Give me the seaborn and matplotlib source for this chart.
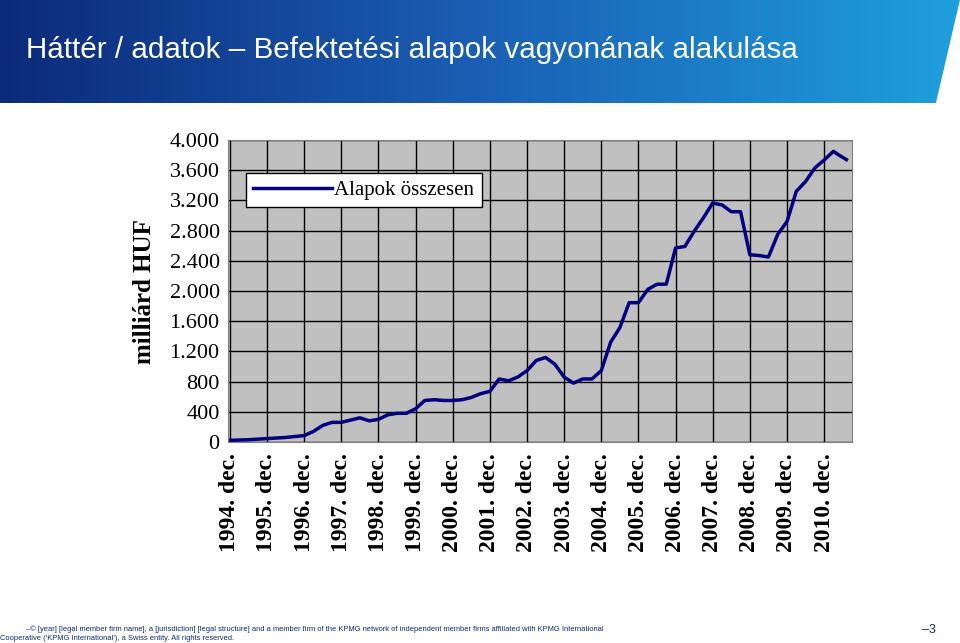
import numpy as np
import pandas as pd
import matplotlib
matplotlib.use("Agg")
import matplotlib.pyplot as plt
import seaborn as sns
from matplotlib.colors import LinearSegmentedColormap

# time in years since 1994 dec (quarterly readings)
t = [0, 0.5, 1, 1.5, 2, 2.25, 2.5, 2.75, 3, 3.25, 3.5, 3.75, 4, 4.25, 4.5, 4.75, 5, 5.25, 5.5, 5.75,
     6, 6.25, 6.5, 6.75, 7, 7.25, 7.5, 7.75, 8, 8.25, 8.5, 8.75, 9, 9.25, 9.5, 9.75, 10, 10.25, 10.5,
     10.75, 11, 11.25, 11.5, 11.75, 12, 12.25, 12.5, 12.75, 13, 13.25, 13.5, 13.75, 14, 14.25, 14.5,
     14.75, 15, 15.25, 15.5, 15.75, 16, 16.25, 16.4, 16.6]
values = [22, 30, 45, 60, 85, 140, 220, 260, 260, 290, 320, 280, 300, 360, 380, 380, 440, 550, 560, 550,
          550, 560, 590, 640, 670, 835, 810, 860, 945, 1080, 1120, 1030, 860, 780, 835, 835, 945, 1320, 1515,
          1845, 1845, 2020, 2090, 2090, 2570, 2590, 2790, 2970, 3165, 3140, 3050, 3050, 2480, 2470, 2450,
          2750, 2920, 3320, 3450, 3630, 3735, 3850, 3800, 3740]
year_labels = ["1994. dec.", "1995. dec.", "1996. dec.", "1997. dec.", "1998. dec.", "1999. dec.",
               "2000. dec.", "2001. dec.", "2002. dec.", "2003. dec.", "2004. dec.", "2005. dec.",
               "2006. dec.", "2007. dec.", "2008. dec.", "2009. dec.", "2010. dec."]
y_ticks = [0, 400, 800, 1200, 1600, 2000, 2400, 2800, 3200, 3600, 4000]

df = pd.DataFrame({"t": t, "v": values})

fig = plt.figure(figsize=(9.6, 6.43), dpi=100)
hdr = fig.add_axes([0, 1 - 103/643, 1, 103/643])
grad = np.linspace(0, 1, 256).reshape(1, -1)
cmap = LinearSegmentedColormap.from_list("h", ["#0c2a7a", "#1a5fb4", "#1ea0dc"])
hdr.imshow(grad, aspect="auto", cmap=cmap, extent=[0, 1, 0, 1])
hdr.fill([0.975, 1.0, 1.0], [0, 0, 1], color="white")
hdr.set_xlim(0, 1); hdr.set_ylim(0, 1); hdr.axis("off")
fig.text(0.027, 1 - 50/643, "Háttér / adatok – Befektetési alapok vagyonának alakulása",
         color="white", fontsize=21.3, family="Liberation Sans", va="center")

ax = fig.add_axes([228/960, 1 - 442/643, (852-228)/960, (442-140)/643])
ax.set_facecolor("#c0c0c0")
sns.lineplot(data=df, x="t", y="v", ax=ax, color="#000080", linewidth=2.5, label="Alapok összesen")
ax.set_xlim(-0.05, 16.75)
ax.set_ylim(0, 4000)
ax.set_xticks(range(len(year_labels)))
ax.set_xticklabels(year_labels, rotation=90, family="Liberation Serif", fontsize=17, fontweight="bold")
ax.set_yticks(y_ticks)
ax.set_yticklabels([f"{v:,}".replace(",", ".") for v in y_ticks], family="Liberation Serif",
                   fontsize=16)
ax.tick_params(axis="x", pad=8)
ax.tick_params(axis="y", pad=6)
ax.grid(True, color="black", linewidth=1)
ax.set_axisbelow(True)
ax.set_xlabel("")
ax.set_ylabel("milliárd HUF", family="Liberation Serif", fontsize=18, fontweight="bold", labelpad=10)
for s in ax.spines.values():
    s.set_color("#808080")
ax.tick_params(length=0)
ax.legend(loc="upper left", bbox_to_anchor=(0.012, 0.925), prop={"family": "Liberation Serif", "size": 15},
          fancybox=False, framealpha=1, edgecolor="black", handlelength=3.8, handletextpad=0.1,
          borderpad=0.35)

fig.text(0.027, 1 - 629/643, "–© [year] [legal member firm name], a [jurisdiction] [legal structure] and a member firm of the KPMG network of independent member firms affiliated with KPMG International",
         fontsize=5.4, color="#0c2a7a", family="Liberation Sans", va="center")
fig.text(0.0, 1 - 638/643, "Cooperative (‘KPMG International’), a Swiss entity. All rights reserved.",
         fontsize=5.4, color="#0c2a7a", family="Liberation Sans", va="center")
fig.text(0.96, 1 - 630/643, "–3", fontsize=9, color="#0c2a7a", family="Liberation Sans", va="center")
fig.savefig("out.png", dpi=100)
